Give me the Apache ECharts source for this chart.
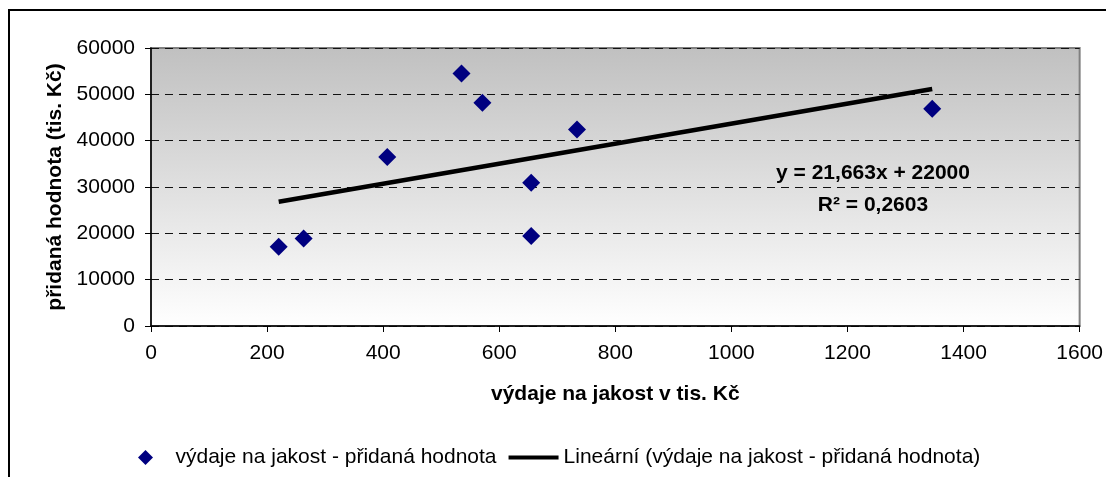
<!DOCTYPE html>
<html>
<head>
<meta charset="utf-8">
<script src="https://cdn.jsdelivr.net/npm/echarts@6/dist/echarts.min.js"></script>
<style>
  html, body { margin: 0; padding: 0; background: #fff; }
  #main { width: 1106px; height: 477px; }
</style>
</head>
<body>
<div id="main"></div>
<script>
// výdaje na jakost (tis. Kč) vs. přidaná hodnota (tis. Kč)
var vydaje = [220, 263, 407, 535, 571, 734, 655, 655, 1346];
var pridanaHodnota = [17100, 18900, 36500, 54500, 48200, 42400, 30900, 19400, 46900];
// trend line end points
var trendX = [220, 1346];
var trendY = [26800, 51150];
var equationText = 'y = 21,663x + 22000';
var r2Text = 'R² = 0,2603';

var font = '"Liberation Sans", Arial, sans-serif';

var points = vydaje.map(function (x, i) { return [x, pridanaHodnota[i]]; });
var trend = trendX.map(function (x, i) { return [x, trendY[i]]; });

var myChart = echarts.init(document.getElementById('main'));
myChart.setOption({
  animation: false,
  textStyle: { fontFamily: font },
  grid: {
    left: 151, right: 24, top: 48, bottom: 151,
    show: true,
    borderColor: '#808080',
    borderWidth: 2,
    backgroundColor: {
      type: 'linear', x: 0, y: 0, x2: 0, y2: 1,
      colorStops: [
        { offset: 0, color: '#c0c0c0' },
        { offset: 1, color: '#ffffff' }
      ]
    }
  },
  xAxis: {
    type: 'value', min: 0, max: 1600, interval: 200,
    name: 'výdaje na jakost v tis. Kč',
    nameLocation: 'middle', nameGap: 58,
    nameTextStyle: { fontFamily: font, fontSize: 21, fontWeight: 'bold', color: '#000' },
    axisLine: { lineStyle: { color: '#000', width: 1.5 } },
    axisTick: { show: true, length: 6, lineStyle: { color: '#000' } },
    axisLabel: { fontFamily: font, fontSize: 21, color: '#000', margin: 17, formatter: function (v) { return String(v); } },
    splitLine: { show: false }
  },
  yAxis: {
    type: 'value', min: 0, max: 60000, interval: 10000,
    name: 'přidaná hodnota (tis. Kč)',
    nameLocation: 'middle', nameGap: 83,
    nameTextStyle: { fontFamily: font, fontSize: 21, fontWeight: 'bold', color: '#000' },
    axisLine: { show: true, lineStyle: { color: '#000', width: 1.5 } },
    axisTick: { show: true, length: 6, lineStyle: { color: '#000' } },
    axisLabel: { fontFamily: font, fontSize: 21, color: '#000', margin: 16, formatter: function (v) { return String(v); } },
    splitLine: { show: true, lineStyle: { color: '#111', width: 1, type: [8, 6] } }
  },
  legend: {
    left: 133, top: 442,
    itemWidth: 50, itemHeight: 15, itemGap: 12,
    textStyle: { fontFamily: font, fontSize: 21, color: '#000', padding: [0, 0, 0, 0] },
    data: [
      { name: 'výdaje na jakost - přidaná hodnota', icon: 'path://M5,0L10,5L5,10L0,5Z', itemStyle: { color: '#000080', opacity: 1 } },
      { name: 'Lineární (výdaje na jakost - přidaná hodnota)', icon: 'path://M0,0H50V4H0Z' }
    ]
  },
  graphic: [
    {
      type: 'rect', silent: true, z: -1,
      shape: { x: 9, y: 10, width: 1200, height: 600 },
      style: { fill: 'none', stroke: '#000', lineWidth: 2 }
    },
    {
      type: 'text', x: 873, y: 173, z: 10,
      style: { text: equationText, font: 'bold 21px ' + font, fill: '#000', align: 'center', verticalAlign: 'middle' }
    },
    {
      type: 'text', x: 873, y: 205, z: 10,
      style: { text: r2Text, font: 'bold 21px ' + font, fill: '#000', align: 'center', verticalAlign: 'middle' }
    }
  ],
  series: [
    {
      name: 'výdaje na jakost - přidaná hodnota',
      type: 'scatter',
      symbol: 'diamond',
      symbolSize: 18,
      itemStyle: { color: '#000080', opacity: 1 },
      data: points,
      z: 3
    },
    {
      name: 'Lineární (výdaje na jakost - přidaná hodnota)',
      type: 'line',
      showSymbol: false,
      symbol: 'none',
      lineStyle: { color: '#000', width: 4.5 },
      itemStyle: { color: '#000' },
      data: trend,
      z: 4
    }
  ]
});
</script>
</body>
</html>
